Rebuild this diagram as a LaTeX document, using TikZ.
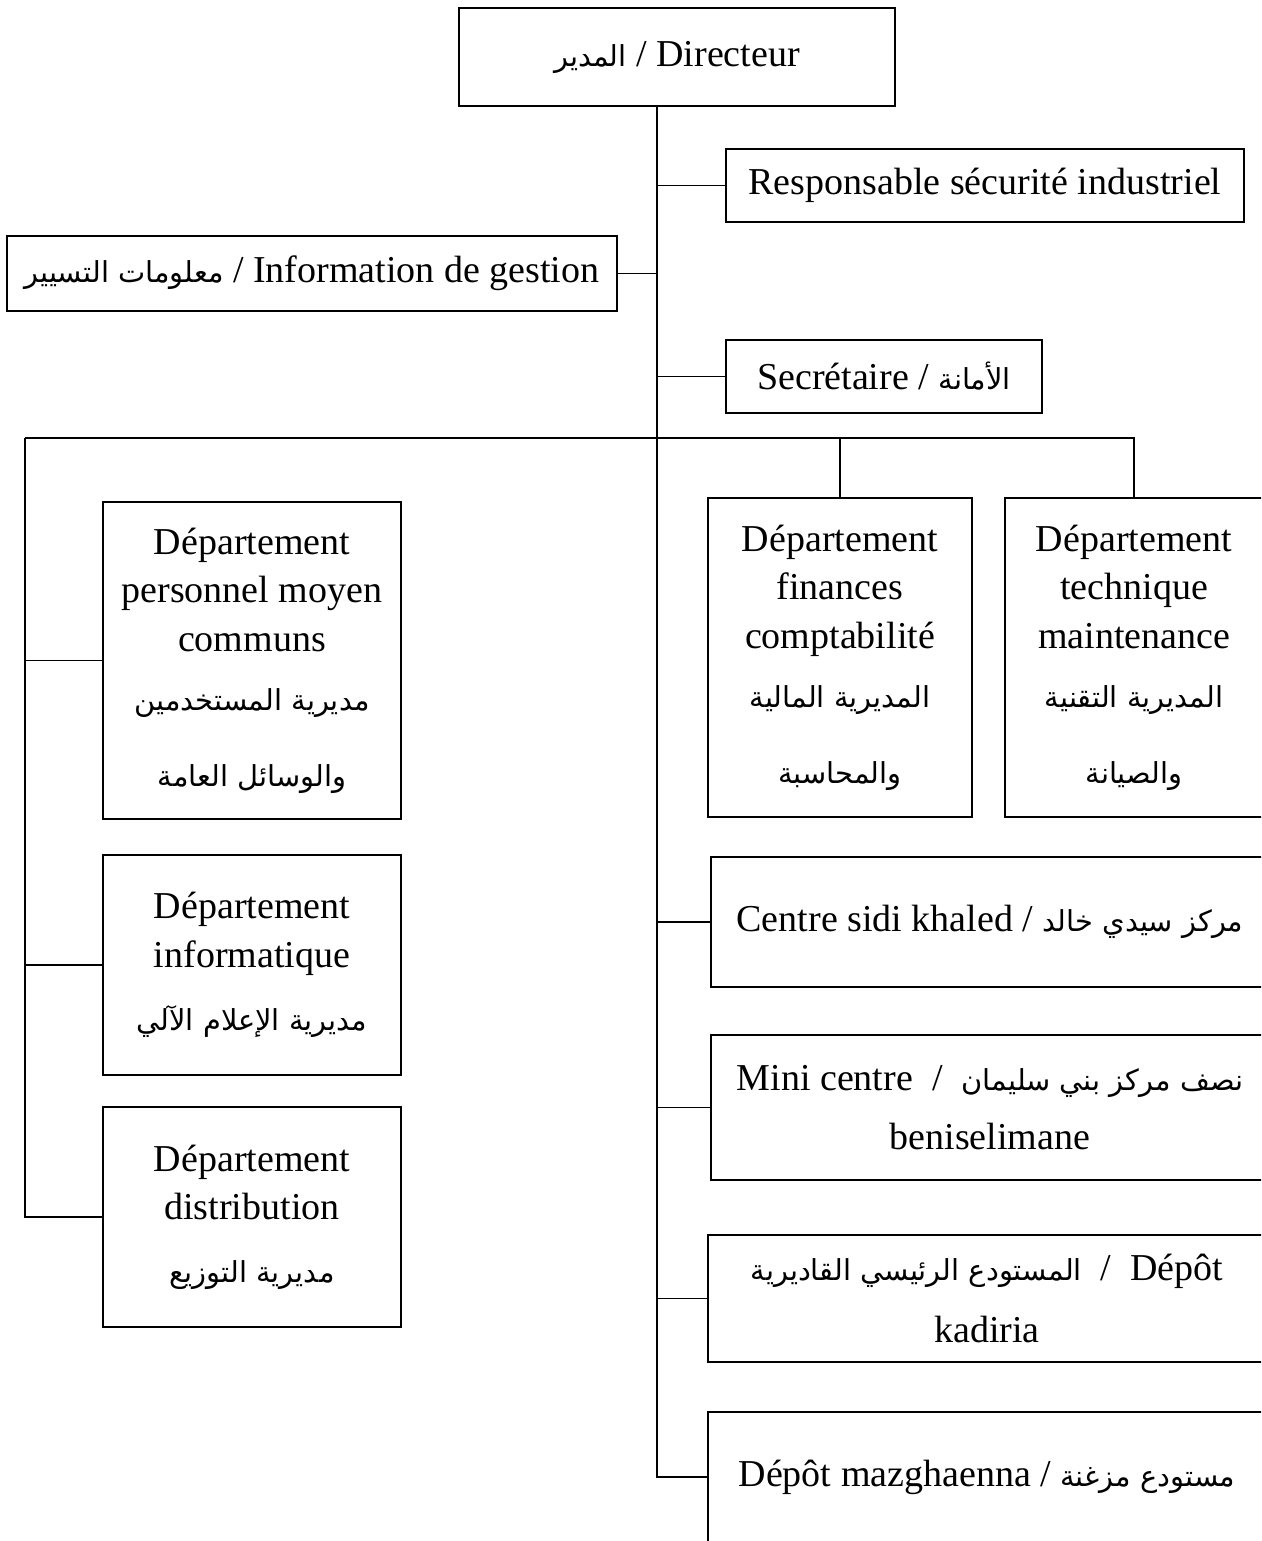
\documentclass[tikz,border=0pt]{standalone}
\usepackage{fontspec}
\setmainfont{Liberation Serif}
\newfontfamily\arabicfont[Script=Arabic,Scale=0.76]{DejaVu Sans}
\TeXXeTstate=1
\usetikzlibrary{positioning,calc}
\newcommand{\ar}[1]{{\arabicfont\beginR #1\endR}}

\begin{document}
\begin{tikzpicture}
[x=1pt, y=-1pt, line width=1.5pt, font=\fontsize{38}{48.5}\selectfont,
box/.style={rectangle, draw, align=center, inner sep=0pt},
link/.style={draw, line width=1.5pt}]

\useasboundingbox (0,0) rectangle (1261,1541);
\clip (0,0) rectangle (1261,1541);

\node[box, minimum width=436pt, minimum height=98pt] (dir) at (677,57) {\ar{المدير} / Directeur};

\node[box, minimum width=518pt, minimum height=73pt] (resp) at (985,185.5) {Responsable sécurité industriel};
\node[box, minimum width=610pt, minimum height=75pt] (info) at (312,273.5) {\ar{معلومات التسيير} / Information de gestion};
\node[box, minimum width=316pt, minimum height=73pt] (secr) at (884,376.5) {Secrétaire / \ar{الأمانة}};

\node[box, minimum width=298pt, minimum height=317pt] (pers) at (252,660.5) {Département\\personnel moyen\\communs\\[11pt]\ar{مديرية المستخدمين}\\[27pt]\ar{والوسائل العامة}};
\node[box, minimum width=264pt, minimum height=319pt] (fin) at (840,657.5) {Département\\finances\\comptabilité\\[11pt]\ar{المديرية المالية}\\[27pt]\ar{والمحاسبة}};
\node[box, minimum width=258pt, minimum height=319pt] (tech) at (1134,657.5) {Département\\technique\\maintenance\\[11pt]\ar{المديرية التقنية}\\[27pt]\ar{والصيانة}};

\node[box, minimum width=298pt, minimum height=220pt] (infor) at (252,965) {Département\\informatique\\[15pt]\ar{مديرية الإعلام الآلي}};
\node[box, minimum width=298pt, minimum height=220pt] (distr) at (252,1217) {Département\\distribution\\[14pt]\ar{مديرية التوزيع}};

\node[box, minimum width=558pt, minimum height=130pt] (sidi) at (990,922) {Centre sidi khaled / \ar{مركز سيدي خالد}};
\node[box, minimum width=558pt, minimum height=145pt] (mini) at (990,1107.5) {Mini centre \ / \ \ar{نصف مركز بني سليمان}\\[11pt]beniselimane};
\node[box, minimum width=558pt, minimum height=127pt] (kad) at (987,1298.5) {\ar{المستودع الرئيسي القاديرية} \ / \ Dépôt\\[13pt]kadiria};
\node[box, minimum width=558pt, minimum height=130pt] (mazg) at (987,1477) {Dépôt mazghaenna / \ar{مستودع مزغنة}};

% trunk and buses
\coordinate (stem) at (657,106);
\coordinate (lbus) at (25,438);

\path[link] (stem) -- (stem |- mazg.west) -- (mazg.west);
\path[link] (stem |- resp.west) -- (resp.west);
\path[link] (stem |- info.east) -- (info.east);
\path[link] (stem |- secr.west) -- (secr.west);
\path[link] (stem |- sidi.west) -- (sidi.west);
\path[link] (stem |- mini.west) -- (mini.west);
\path[link] (stem |- kad.west) -- (kad.west);

\path[link] (lbus) -- (tech.north |- lbus) -- (tech.north);
\path[link] (fin.north |- lbus) -- (fin.north);
\path[link] (lbus) -- (lbus |- distr.west) -- (distr.west);
\path[link] (lbus |- pers.west) -- (pers.west);
\path[link] (lbus |- infor.west) -- (infor.west);
\end{tikzpicture}
\end{document}
